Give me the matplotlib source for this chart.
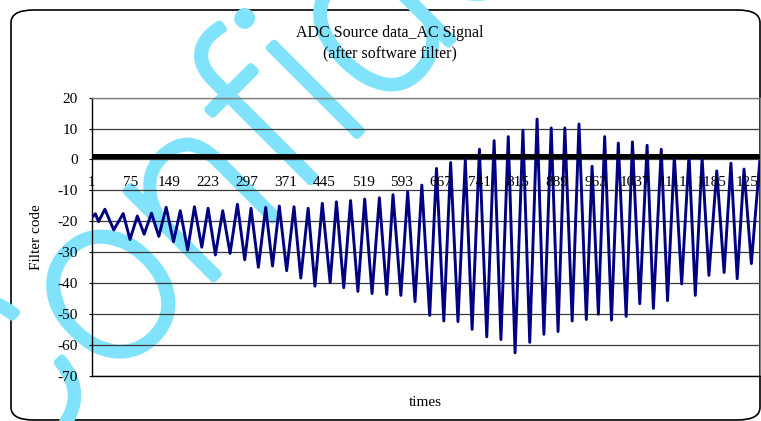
import matplotlib
matplotlib.use('Agg')
import matplotlib.pyplot as plt
from matplotlib.patches import FancyBboxPatch
import matplotlib.patheffects as pe

plt.rcParams['font.family'] = ['Liberation Serif', 'DejaVu Serif']

# ---------------- data ----------------
title_line1 = "ADC Source data_AC Signal"
title_line2 = "(after software filter)"
y_label = "Filter code"
x_label = "times"
watermark = "Confidential"

n_samples = 1276
x_tick_values = [1, 75, 149, 223, 297, 371, 445, 519, 593, 667, 741, 815,
                 889, 963, 1037, 1111, 1185, 1259]
y_tick_values = [-70, -60, -50, -40, -30, -20, -10, 0, 10, 20]

# sample index of each turning point of the signal (peaks / troughs)
sample_index = [1, 8, 14, 26, 43, 61, 74, 88, 101, 115, 129, 143, 157, 170,
                184, 197, 211, 223, 237, 251, 265, 279, 293, 305, 319, 333,
                346, 359, 373, 387, 400, 414, 427, 441, 456, 468, 482, 495,
                509, 522, 536, 550, 564, 576, 591, 604, 618, 631, 646, 659,
                673, 686, 700, 714, 727, 741, 755, 769, 782, 796, 809, 824,
                837, 851, 864, 878, 891, 904, 918, 931, 945, 956, 968, 980,
                993, 1006, 1021, 1033, 1047, 1061, 1073, 1088, 1100, 1113,
                1127, 1141, 1153, 1166, 1179, 1194, 1208, 1221, 1233, 1246,
                1260, 1276]
filter_code = [-18.8, -17.6, -20.1, -16.1, -22.8, -17.5, -25.9, -18.3, -24.2,
               -17.4, -24.9, -15.5, -26.6, -16.6, -29.3, -15.3, -28.4, -15.8,
               -30.9, -16.6, -30.4, -14.5, -32.5, -15.8, -34.9, -15.5, -34.5,
               -15.1, -36.0, -15.3, -38.4, -15.8, -41.0, -14.2, -39.9, -13.7,
               -41.5, -13.3, -42.7, -12.8, -43.4, -12.4, -43.7, -11.4, -44.0,
               -10.5, -46.0, -8.3, -50.5, -2.9, -52.3, -1.0, -52.5, -0.2,
               -55.0, 3.3, -57.4, 6.1, -58.3, 7.4, -62.6, 9.5, -59.2, 13.1,
               -56.6, 10.2, -55.7, 10.2, -52.3, 11.5, -51.8, -2.2, -50.1, 7.4,
               -52.0, 5.3, -50.8, 5.7, -46.7, 4.6, -48.2, 3.3, -45.7, 1.0,
               -40.3, 1.4, -44.0, 0.4, -37.5, -3.7, -36.6, -1.2, -38.6, -3.1,
               -33.7, -0.7]
axis_cross_value = 1

# ---------------- figure ----------------
W, H = 761, 421
fig = plt.figure(figsize=(W / 100, H / 100), dpi=100)
fig.patch.set_facecolor('white')

# chart area border (rounded)
border = FancyBboxPatch((11 / W, 1 - 420 / H), (760 - 11) / W, (420 - 10) / H,
                        boxstyle="round,pad=0,rounding_size=0.03",
                        transform=fig.transFigure, facecolor='white',
                        edgecolor='black', linewidth=1.2, zorder=0)
fig.patches.append(border)

# watermark
wm_color = '#80e3fb'
fig.text(2 / W, 1 - 490 / H, watermark, rotation=45, rotation_mode='anchor',
         ha='left', va='baseline', fontsize=168, color=wm_color,
         family=['Roboto', 'DejaVu Sans'], fontweight='light', zorder=1,
         path_effects=[pe.withStroke(linewidth=5.5, foreground=wm_color)])

left, right, top, bottom = 91.5, 760, 97.7, 375.7
ax = fig.add_axes([left / W, 1 - bottom / H, (right - left) / W, (bottom - top) / H])
ax.set_zorder(2)
ax.patch.set_facecolor('none')

ax.plot(sample_index, filter_code, color='#000080', lw=2.1, solid_joinstyle='round',
        zorder=3)
ax.axhline(axis_cross_value, color='black', lw=3.6, zorder=4)

ax.set_xlim(0.5, n_samples + 0.5)
ax.set_ylim(-70, 20)
ax.set_yticks(y_tick_values)
ax.set_yticklabels([str(v) for v in y_tick_values], fontsize=11)
ax.tick_params(axis='y', length=2, pad=8, color='black')
ax.set_xticks([])
ax.yaxis.grid(True, color='#3a3a3a', lw=0.9, zorder=1)
ax.set_axisbelow(True)

for sp in ['left', 'bottom']:
    ax.spines[sp].set_color('black')
    ax.spines[sp].set_linewidth(1.0)
for sp in ['top', 'right']:
    ax.spines[sp].set_color('#808080')
    ax.spines[sp].set_linewidth(1.0)

for v in x_tick_values:
    t = ax.text(v, -7.6, str(v), ha='center', va='center', fontsize=11, zorder=5)
    if v == x_tick_values[-1]:
        t.set_clip_on(True)

fig.text(390 / W, 1 - 33 / H, title_line1, ha='center', va='center', fontsize=11.5)
fig.text(390 / W, 1 - 53 / H, title_line2, ha='center', va='center', fontsize=11.5)
fig.text(37 / W, 1 - 237 / H, y_label, ha='center', va='center', rotation=90, fontsize=11)
fig.text(425 / W, 1 - 403 / H, x_label, ha='center', va='center', fontsize=11)

fig.savefig('out.png', dpi=100)
